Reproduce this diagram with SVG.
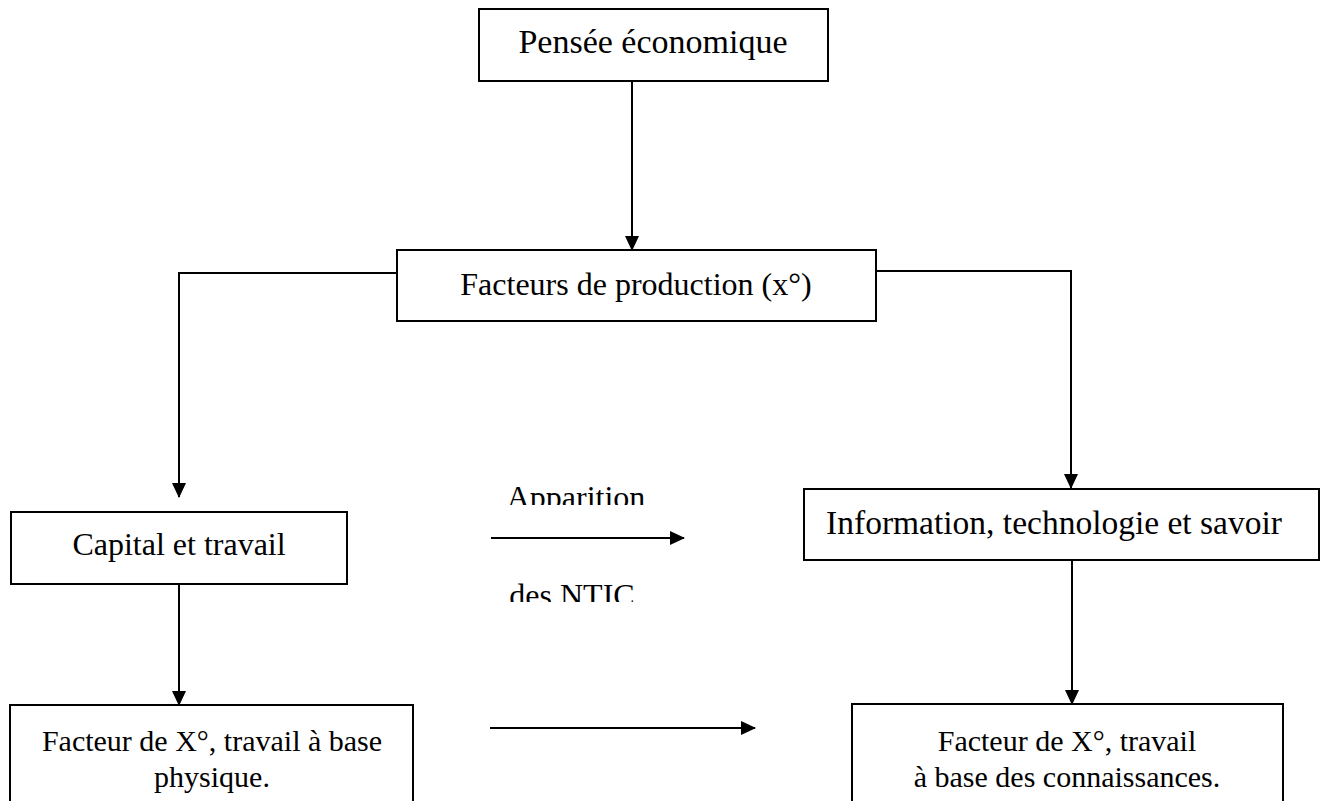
<svg xmlns="http://www.w3.org/2000/svg" width="1339" height="801" viewBox="0 0 1339 801">
<style>
.box{fill:#fff;stroke:#000;stroke-width:2}
.t{font-family:"Liberation Serif","Times New Roman",serif;font-size:32px;fill:#000;text-anchor:middle}
.c{fill:none;stroke:#000;stroke-width:2}
</style>
<defs>
<marker id="ah" markerWidth="15" markerHeight="14" refX="14" refY="7" orient="auto" markerUnits="userSpaceOnUse">
<path d="M0,0 L15,7 L0,14 Z" fill="#000"/>
</marker>
<clipPath id="clipA"><rect x="470" y="470" width="220" height="35"/></clipPath>
<clipPath id="clipB"><rect x="470" y="570" width="220" height="32"/></clipPath>
</defs>
<rect width="1339" height="801" fill="#fff"/>
<g id="connectors">
<line class="c" x1="632" y1="81" x2="632" y2="250" marker-end="url(#ah)"/>
<polyline class="c" points="397,273 179,273 179,497" marker-end="url(#ah)"/>
<polyline class="c" points="876,271 1071,271 1071,488" marker-end="url(#ah)"/>
<line class="c" x1="179" y1="584" x2="179" y2="705" marker-end="url(#ah)"/>
<line class="c" x1="1072" y1="560" x2="1072" y2="704" marker-end="url(#ah)"/>
<line class="c" x1="491" y1="538" x2="684" y2="538" marker-end="url(#ah)"/>
<line class="c" x1="490" y1="728" x2="755" y2="728" marker-end="url(#ah)"/>
</g>
<g id="label-ntic">
<text class="t" x="576" y="508" clip-path="url(#clipA)">Apparition</text>
<text class="t" x="576" y="606" clip-path="url(#clipB)">des NTIC.</text>
</g>
<g id="n1"><rect class="box" x="479" y="9" width="349" height="72"/><text class="t" x="653" y="53" style="font-size:34px">Pensée économique</text></g>
<g id="n2"><rect class="box" x="397" y="250" width="479" height="71"/><text class="t" x="636" y="295">Facteurs de production (x°)</text></g>
<g id="n3"><rect class="box" x="11" y="512" width="336" height="72"/><text class="t" x="179" y="555">Capital et travail</text></g>
<g id="n4"><rect class="box" x="804" y="489" width="515" height="71"/><text class="t" x="1054" y="534" style="font-size:33.5px">Information, technologie et savoir</text></g>
<g id="n5"><rect class="box" x="10" y="705" width="403" height="100"/><text class="t" x="212" y="751" style="font-size:30px">Facteur de X°, travail à base</text><text class="t" x="212" y="787" style="font-size:30px">physique.</text></g>
<g id="n6"><rect class="box" x="852" y="704" width="431" height="100"/><text class="t" x="1067" y="751" style="font-size:30px">Facteur de X°, travail</text><text class="t" x="1067" y="787" style="font-size:30px">à base des connaissances.</text></g>
</svg>
